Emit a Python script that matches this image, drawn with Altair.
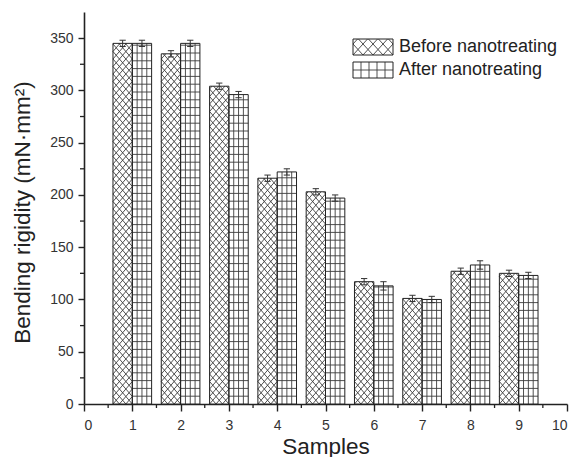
import numpy as np
import pandas as pd
import altair as alt

# Bending rigidity of nine samples, before and after nanotreatment
samples = [1, 2, 3, 4, 5, 6, 7, 8, 9]
before = [345, 335, 304, 216, 203, 117, 101, 127, 125]
after = [345, 345, 296, 222, 197, 113, 100, 133, 123]
before_err = [3, 3, 3, 3, 3, 3, 3, 3, 3]
after_err = [3, 3, 3, 3, 3, 4, 3, 4, 3]
series_names = ["Before nanotreating", "After nanotreating"]
x_ticks = list(range(0, 11))
y_ticks = list(range(0, 351, 50))

# Plot-area geometry (pixels) and axis domains
W, H = 483, 392
X_MAX, Y_MAX = 10, 375
SX = W / X_MAX
SY = H / Y_MAX
BAR_W = 0.4
FONT = "Liberation Sans"
INK = "#222222"
HATCH = "#3c3c3c"


def cross_segments(w, h, px, py):
    """Diagonal cross-hatch lines inside a w x h box (pixels, y up)."""
    m = py / px
    segs = []
    for k in range(int(np.floor(-w * m / py)) - 1, int(np.ceil(h / py)) + 2):
        c = k * py
        xa, xb = max(0.0, -c / m), min(w, (h - c) / m)
        if xb - xa > 1e-6:
            segs.append((xa, m * xa + c, xb, m * xb + c))
    for k in range(0, int(np.ceil((w * m + h) / py)) + 2):
        c = k * py
        xa, xb = max(0.0, (c - h) / m), min(w, c / m)
        if xb - xa > 1e-6:
            segs.append((xa, c - m * xa, xb, c - m * xb))
    return segs


def grid_segments(w, h, ncols, py):
    """Vertical/horizontal grid lines inside a w x h box (pixels, y up)."""
    segs = []
    for i in range(1, ncols):
        xv = w * i / ncols
        segs.append((xv, 0.0, xv, h))
    yv = py
    while yv < h - 0.5:
        segs.append((0.0, yv, w, yv))
        yv += py
    return segs


# Bars table
rows = []
for s, b, a, eb, ea in zip(samples, before, after, before_err, after_err):
    rows.append(dict(series=series_names[0], x0=s - BAR_W, x1=s, v=b, err=eb))
    rows.append(dict(series=series_names[1], x0=s, x1=s + BAR_W, v=a, err=ea))
bars = pd.DataFrame(rows)
bars["xc"] = (bars["x0"] + bars["x1"]) / 2
bars["lo"] = bars["v"] - bars["err"]
bars["hi"] = bars["v"] + bars["err"]
bars["cl"] = bars["xc"] - 0.065
bars["cr"] = bars["xc"] + 0.065

# Hatch lines for every bar, converted from bar-local pixels to data units
hatch_rows = []
for r in bars.itertuples():
    w_px = (r.x1 - r.x0) * SX
    h_px = r.v * SY
    if r.series == series_names[0]:
        segs = cross_segments(w_px, h_px, w_px / 3, 7.5)
    else:
        segs = grid_segments(w_px, h_px, 4, 7.8)
    for xa, ya, xb, yb in segs:
        hatch_rows.append(dict(x=r.x0 + xa / SX, y=ya / SY,
                               x2=r.x0 + xb / SX, y2=yb / SY))
hatch = pd.DataFrame(hatch_rows)

# Legend layout (pixels inside the plot area, y down), mapped to data units
LEG_X, LEG_Y0, SW_W, SW_H, ROW = 269, 27, 40, 16, 23
leg_boxes, leg_lines, leg_text = [], [], []
for i, name in enumerate(series_names):
    top = LEG_Y0 + i * ROW
    bottom = top + SW_H
    leg_boxes.append(dict(x=LEG_X / SX, x2=(LEG_X + SW_W) / SX,
                          y=(H - bottom) / SY, y2=(H - top) / SY))
    leg_text.append(dict(x=(LEG_X + SW_W + 6) / SX,
                         y=(H - (top + SW_H / 2)) / SY, label=name))
    segs = (cross_segments(SW_W, SW_H, 10, 11) if i == 0
            else grid_segments(SW_W, SW_H, 5, 8))
    for xa, ya, xb, yb in segs:
        leg_lines.append(dict(x=(LEG_X + xa) / SX, y=(H - bottom + ya) / SY,
                              x2=(LEG_X + xb) / SX, y2=(H - bottom + yb) / SY))
leg_boxes = pd.DataFrame(leg_boxes)
leg_lines = pd.DataFrame(leg_lines)
leg_text = pd.DataFrame(leg_text)

# Minor ticks
minor_x = pd.DataFrame({"x": [k + 0.5 for k in range(10)]})
minor_y = pd.DataFrame({"y": [k * 50 + 25 for k in range(7)]})

xs = alt.Scale(domain=[0, X_MAX], nice=False, zero=False)
ys = alt.Scale(domain=[0, Y_MAX], nice=False)

x_axis = alt.Axis(values=x_ticks, title="Samples", format="d",
                  tickSize=7, labelPadding=7, titleX=W / 2, titleY=49,
                  titleBaseline="alphabetic", titleAlign="center")
y_axis = alt.Axis(values=y_ticks, title="Bending rigidity (mN·mm²)",
                  tickSize=6, labelPadding=5, titleX=-62, titleY=H / 2 + 4,
                  titleAngle=-90, titleBaseline="middle", titleAlign="center")

base_fill = alt.Chart(bars).mark_rect(fill="white", strokeWidth=0).encode(
    x=alt.X("x0:Q", scale=xs, axis=x_axis),
    x2="x1:Q",
    y=alt.Y("v:Q", scale=ys, axis=y_axis),
    y2=alt.datum(0),
)

hatch_layer = alt.Chart(hatch).mark_rule(color=HATCH, strokeWidth=0.9).encode(
    x="x:Q", x2="x2:Q", y="y:Q", y2="y2:Q"
)

outline = alt.Chart(bars).mark_rect(fill=None, stroke=INK, strokeWidth=1).encode(
    x="x0:Q", x2="x1:Q", y="v:Q", y2=alt.datum(0)
)

err_v = alt.Chart(bars).mark_rule(color="#333333", strokeWidth=1).encode(
    x="xc:Q", y="lo:Q", y2="hi:Q"
)
cap_hi = alt.Chart(bars).mark_rule(color="#333333", strokeWidth=1).encode(
    x="cl:Q", x2="cr:Q", y="hi:Q"
)
cap_lo = alt.Chart(bars).mark_rule(color="#333333", strokeWidth=1).encode(
    x="cl:Q", x2="cr:Q", y="lo:Q"
)

mx = alt.Chart(minor_x).mark_rule(color=INK, strokeWidth=1.3).encode(
    x="x:Q", y=alt.value(H), y2=alt.value(H + 4)
)
my = alt.Chart(minor_y).mark_rule(color=INK, strokeWidth=1.3).encode(
    y="y:Q", x=alt.value(0), x2=alt.value(-4)
)

leg_fill = alt.Chart(leg_boxes).mark_rect(fill="white", strokeWidth=0).encode(
    x="x:Q", x2="x2:Q", y="y:Q", y2="y2:Q"
)
leg_hatch = alt.Chart(leg_lines).mark_rule(color=HATCH, strokeWidth=0.9).encode(
    x="x:Q", x2="x2:Q", y="y:Q", y2="y2:Q"
)
leg_box = alt.Chart(leg_boxes).mark_rect(fill=None, stroke=INK, strokeWidth=1).encode(
    x="x:Q", x2="x2:Q", y="y:Q", y2="y2:Q"
)
leg_label = alt.Chart(leg_text).mark_text(
    align="left", baseline="middle", font=FONT, fontSize=18, color=INK
).encode(x="x:Q", y="y:Q", text="label:N")

chart = alt.layer(
    base_fill, hatch_layer, outline, err_v, cap_hi, cap_lo, mx, my,
    leg_fill, leg_hatch, leg_box, leg_label
).properties(
    width=W, height=H,
    autosize=alt.AutoSizeParams(type="none"),
    padding={"left": 84, "top": 12, "right": 10, "bottom": 53},
).configure_view(stroke=None).configure_axis(
    grid=False,
    domainColor=INK, domainWidth=1.6,
    tickColor=INK, tickWidth=1.4,
    labelFont=FONT, labelFontSize=14, labelColor="#333333",
    titleFont=FONT, titleFontSize=22.5, titleFontWeight="normal", titleColor=INK,
)

chart.save("out.html", embed_options={"renderer": "svg", "actions": False})
